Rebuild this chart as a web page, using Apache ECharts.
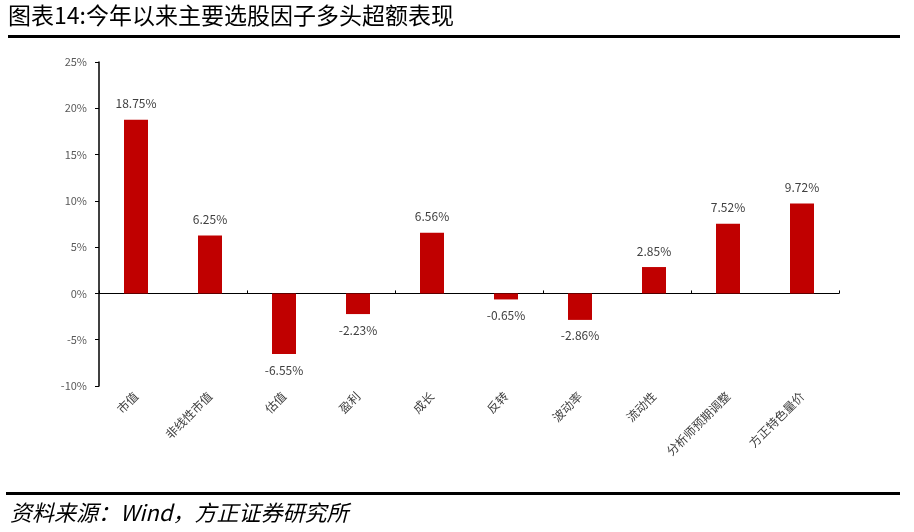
<!DOCTYPE html>
<html><head><meta charset="utf-8">
<script src="https://cdn.jsdelivr.net/npm/echarts@6/dist/echarts.min.js"></script>
<style>html,body{margin:0;padding:0;background:#fff}#c{width:914px;height:532px}</style>
</head><body><div id="c"></div>
<script>
const categories = ['市值','非线性市值','估值','盈利','成长','反转','波动率','流动性','分析师预期调整','方正特色量价'];
const values = [18.75, 6.25, -6.55, -2.23, 6.56, -0.65, -2.86, 2.85, 7.52, 9.72];
const yTicks = [-10, -5, 0, 5, 10, 15, 20, 25];
const titleText = '图表14:今年以来主要选股因子多头超额表现';
const sourceText = '资料来源：Wind，方正证券研究所';

const font = '"Noto Sans CJK SC", "Noto Sans", sans-serif';
const chart = echarts.init(document.getElementById('c'), null, {renderer: 'canvas'});
chart.setOption({
  animation: false,
  backgroundColor: '#fff',
  grid: {left: 99, right: 75, top: 62, bottom: 146},
  xAxis: [{
    type: 'category', data: categories,
    axisLine: {onZero: true, lineStyle: {color: '#000', width: 1}},
    axisTick: {show: true, inside: true, alignWithLabel: false, length: 3, lineStyle: {color: '#000'}},
    axisLabel: {show: false}
  }, {
    type: 'category', data: categories, position: 'bottom',
    axisLine: {show: false}, axisTick: {show: false},
    axisLabel: {rotate: 45, margin: 8, color: '#404040', fontSize: 12, fontFamily: font}
  }],
  yAxis: {
    type: 'value', min: yTicks[0], max: yTicks[yTicks.length - 1], interval: 5,
    axisLine: {show: true, lineStyle: {color: '#000', width: 1.5}},
    axisTick: {show: true, inside: false, length: 4, lineStyle: {color: '#000'}},
    splitLine: {show: false},
    axisLabel: {formatter: v => v + '%', color: '#595959', fontSize: 11, fontFamily: font, margin: 12}
  },
  series: [{
    type: 'bar', xAxisIndex: 0, barWidth: 24,
    itemStyle: {color: '#C00000'},
    label: {show: true, formatter: p => p.value.toFixed(2) + '%', color: '#404040', fontSize: 12, fontFamily: font, distance: 10},
    data: values.map(v => ({value: v, label: {position: v < 0 ? 'bottom' : 'top'}}))
  }],
  graphic: [
    {type: 'text', left: 8, top: 4, style: {text: titleText, font: '23px ' + font, fill: '#000'}},
    {type: 'rect', shape: {x: 8, y: 35, width: 892, height: 3}, style: {fill: '#000'}},
    {type: 'rect', shape: {x: 6, y: 492, width: 894, height: 3}, style: {fill: '#000'}},
    {type: 'text', left: 10, top: 502, style: {text: sourceText, font: 'italic 22px ' + font, fill: '#000'}}
  ]
});
</script></body></html>
